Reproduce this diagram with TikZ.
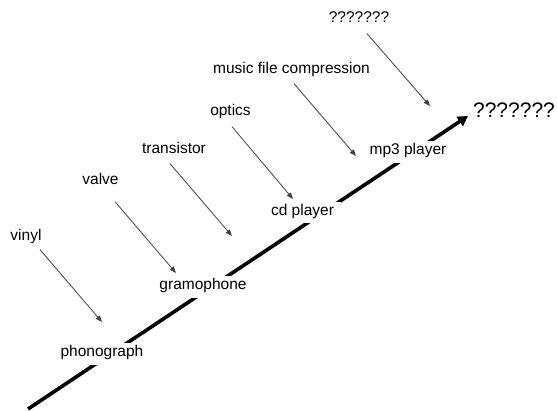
\documentclass[tikz,border=0pt]{standalone}
\usepackage{fontspec}
\setmainfont{Liberation Sans}
\usetikzlibrary{arrows.meta}

\tikzset{
  idea/.style={inner sep=2pt, text height=0.75em, text depth=0.22em,
    font=\fontsize{15.5}{18}\selectfont},
  device/.style={fill=white, inner xsep=7pt, inner ysep=6pt,
    text height=0.75em, text depth=0.22em,
    font=\fontsize{15.5}{18}\selectfont},
  future/.style={inner sep=2pt, font=\fontsize{21}{24}\selectfont},
  feed/.style={draw=black!75, line width=0.8pt,
    -{Triangle[length=6.5pt,width=5pt]}},
  timeline/.style={draw=black, line width=3.6pt,
    -{Triangle[length=10pt,width=11pt]}}
}

\begin{document}
\begin{tikzpicture}[x=1pt,y=-1pt]
\useasboundingbox (0,0) rectangle (557,411);

% the time line, from the bottom left towards the unknown
\coordinate (past) at (28,409);
\coordinate (next) at (468,116);
\draw[timeline] (past) -- (next);

% devices sitting on the time line
\node[device] (phono) at (102,354) {phonograph};
\node[device] (gramo) at (203,287) {gramophone};
\node[device] (cd)    at (302.5,212.5) {cd player};
\node[device] (mp3)   at (408,152) {mp3 player};
\node[future] (unknown) at (514,110) {???????};

% technologies that fed each step
\node[idea] (vinyl)  at (26,238)    {vinyl};
\node[idea] (valve)  at (100.5,182) {valve};
\node[idea] (trans)  at (174,151)   {transistor};
\node[idea] (optics) at (230.5,113) {optics};
\node[idea] (music)  at (291.5,71)  {music file compression};
\node[idea] (what)   at (359,20)    {???????};

\coordinate (to-phono) at (102,322);
\coordinate (to-gramo) at (176,273);
\coordinate (to-gap)   at (232,236);
\coordinate (to-cd)    at (293,199);
\coordinate (to-mp3)   at (356,156);
\coordinate (to-next)  at (430,106);

\draw[feed] ([shift={(14,4.6)}]vinyl.south)   -- (to-phono);
\draw[feed] ([shift={(14.5,12.6)}]valve.south) -- (to-gramo);
\draw[feed] ([shift={(-4,5.6)}]trans.south)   -- (to-gap);
\draw[feed] ([shift={(1.5,6.6)}]optics.south) -- (to-cd);
\draw[feed] ([shift={(2.5,5.6)}]music.south)  -- (to-mp3);
\draw[feed] ([shift={(8,6.6)}]what.south)     -- (to-next);
\end{tikzpicture}
\end{document}
